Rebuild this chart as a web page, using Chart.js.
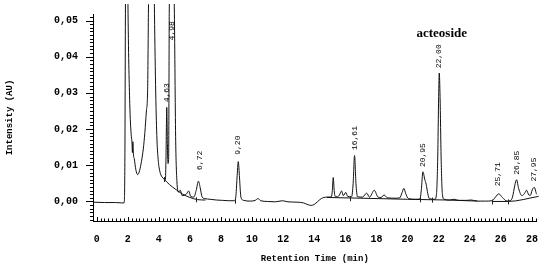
<!DOCTYPE html>
<html>
<head>
<meta charset="utf-8">
<script src="https://cdn.jsdelivr.net/npm/chart.js@4.4.0/dist/chart.umd.min.js"></script>
<style>
  html, body { margin: 0; padding: 0; background: #fff; }
  #wrap { width: 550px; height: 266px; }
</style>
</head>
<body>
<div id="wrap"><canvas id="c" width="550" height="266"></canvas></div>
<script>
// ---- data ----
const retentionTime = [
  -0.23, 0.5, 1.2, 1.6, 1.76, 1.79, 1.82, 1.85, 1.93, 2.02, 2.13, 2.22, 2.27, 2.3, 2.33, 2.37, 2.42,
  2.52, 2.64, 2.76, 2.88, 3.0, 3.1, 3.2, 3.28, 3.33, 3.53, 3.72, 3.8, 3.88, 3.97, 4.07, 4.2, 4.33,
  4.42, 4.46, 4.51, 4.55, 4.59, 4.63, 4.67, 4.82, 5.0, 5.08, 5.16, 5.27, 5.38, 5.5, 5.62, 5.78, 5.92,
  6.05, 6.25, 6.4, 6.55, 6.66, 6.78, 6.95, 7.3, 7.7, 8.1, 8.5, 8.85, 8.95, 9.03, 9.11, 9.19, 9.28,
  9.45, 9.9, 10.2, 10.38, 10.55, 11.0, 11.5, 11.95, 12.3, 12.9, 13.3, 13.6, 13.8, 14.0, 14.2, 14.45,
  14.8, 15.1, 15.16, 15.22, 15.28, 15.36, 15.5, 15.62, 15.75, 15.87, 16.02, 16.15, 16.4, 16.5, 16.59,
  16.68, 16.78, 17.1, 17.37, 17.55, 17.86, 18.1, 18.3, 18.49, 18.7, 19.2, 19.5, 19.65, 19.76, 19.88,
  20.05, 20.5, 20.8, 20.88, 20.99, 21.1, 21.2, 21.3, 21.4, 21.75, 21.86, 21.94, 22.0, 22.04, 22.09,
  22.16, 22.24, 22.35, 22.7, 23.0, 23.3, 23.8, 24.1, 24.5, 25.0, 25.45, 25.65, 25.87, 26.1, 26.4,
  26.6, 26.75, 26.9, 27.01, 27.15, 27.35, 27.52, 27.65, 27.8, 27.9, 28.02, 28.15, 28.3, 28.43
];
const intensity = [
  -0.0002, -0.0003, -0.0003, -0.0004, -0.0004, 0.001, 0.015, 0.052, 0.10, 0.052, 0.027, 0.0185, 0.0165, 0.0135, 0.0165, 0.0128, 0.0118,
  0.0088, 0.0074, 0.0085, 0.011, 0.0145, 0.019, 0.025, 0.031, 0.052, 0.12, 0.052, 0.03, 0.017, 0.011, 0.0082, 0.0068, 0.0062,
  0.006, 0.012, 0.026, 0.016, 0.0105, 0.0115, 0.052, 0.10, 0.052, 0.018, 0.0058, 0.0026, 0.0031, 0.0016, 0.0017, 0.0021, 0.0029,
  0.0014, 0.0012, 0.003, 0.0056, 0.0038, 0.0013, 0.0008, 0.0006, 0.0004, 0.0003, 0.0002, 0.0002, 0.0012, 0.0065, 0.011, 0.0065, 0.0012,
  0.0003, 0.0001, 0.0003, 0.0008, 0.0002, 0.0, -0.0001, 0.0002, -0.0001, -0.0002, -0.0004, -0.0009, -0.0011, -0.0008, -0.0001, 0.0008,
  0.0012, 0.0013, 0.003, 0.0066, 0.003, 0.0013, 0.0013, 0.0018, 0.0029, 0.0016, 0.0025, 0.0014, 0.0013, 0.005, 0.0127,
  0.005, 0.0013, 0.0012, 0.0023, 0.0012, 0.0031, 0.0012, 0.0011, 0.0018, 0.001, 0.0009, 0.001, 0.0025, 0.0036, 0.0022,
  0.0008, 0.0006, 0.0007, 0.003, 0.0082, 0.0062, 0.0047, 0.0022, 0.0008, 0.0006, 0.002, 0.012, 0.029, 0.0355, 0.029,
  0.012, 0.002, 0.0006, 0.0004, 0.0006, 0.0003, 0.0003, 0.0004, 0.0001, 0.0001, 0.0002, 0.0012, 0.0021, 0.0011, 0.0001,
  0.0002, 0.0012, 0.0045, 0.006, 0.0035, 0.0016, 0.0022, 0.0031, 0.0018, 0.0017, 0.0032, 0.0039, 0.002, 0.0011
];
// integration baselines (null separates segments)
const baselineTime = [4.33, 4.7, 5.1, 5.5, 6.0, 6.5, 7.0, 10, 14.8, 17, 20, 22.5, 24.5, 25, 25.45, 26.45, 28.43];
const baselineIntensity = [0.0062, 0.0046, 0.0033, 0.0021, 0.0011, 0.0005, 0.0004, null, 0.0011, 0.0009, 0.0006, 0.0004, 0.0001, null, 0.0, 0.0, 0.0014];
// integration start/stop marks on the baseline
const markTime = [4.33, 6.4, 8.9, 16.3, 20.8, 21.6, 25.45, 26.45];
const markIntensity = [0.0062, 0.0006, 0.0002, 0.0009, 0.0006, 0.0005, 0.0, 0.0];

const peakLabels = ['4,63', '4,98', '6,72', '9,20', '16,61', '20,95', '22,00', '25,71', '26,85', '27,95'];
const peakLabelTime = [4.52, 4.82, 6.62, 9.11, 16.64, 20.99, 22.04, 25.84, 27.03, 28.13];
const peakLabelHeight = [0.0274, 0.0445, 0.0087, 0.0129, 0.0142, 0.0095, 0.0368, 0.0042, 0.0074, 0.0055];

const compoundName = 'acteoside';
const compoundTime = 22.2;
const compoundHeight = 0.0455;

const xTitle = 'Retention Time (min)';
const yTitle = 'Intensity (AU)';
const xStep = 2, xMinorStep = 0.25;
const yStep = 0.01, yMinorStep = 0.001;

// ---- chart ----
const MONO = "'Liberation Mono', 'Courier New', monospace";

const tracePoints = retentionTime.map((t, i) => ({ x: t, y: intensity[i] }));
const basePoints = baselineTime.map((t, i) => ({ x: t, y: baselineIntensity[i] }));

const decorPlugin = {
  id: 'decor',
  afterDraw(chart) {
    const ctx = chart.ctx;
    const xs = chart.scales.x, ys = chart.scales.y;
    const area = chart.chartArea;
    ctx.save();
    ctx.strokeStyle = '#000';
    ctx.lineWidth = 1;
    // y ticks (outward, left)
    const yStart = Math.ceil(ys.min / yMinorStep);
    const yEnd = Math.floor(ys.max / yMinorStep);
    ctx.beginPath();
    for (let k = yStart; k <= yEnd; k++) {
      const v = k * yMinorStep;
      const p = Math.round(ys.getPixelForValue(v)) + 0.5;
      const major = (k % 10 === 0);
      const len = major ? 7 : 3;
      ctx.moveTo(area.left - len, p);
      ctx.lineTo(area.left, p);
    }
    ctx.stroke();
    // x ticks (inward, upward)
    const xEnd = Math.floor(xs.max / xMinorStep);
    ctx.beginPath();
    for (let k = 0; k <= xEnd; k++) {
      const v = k * xMinorStep;
      const p = Math.round(xs.getPixelForValue(v)) + 0.5;
      const major = Math.abs(v / xStep - Math.round(v / xStep)) < 1e-6;
      const len = major ? 4 : 2.5;
      ctx.moveTo(p, area.bottom);
      ctx.lineTo(p, area.bottom - len);
    }
    ctx.stroke();
    // integration marks
    ctx.strokeStyle = '#222';
    ctx.beginPath();
    markTime.forEach((t, i) => {
      const x = Math.round(xs.getPixelForValue(t)) + 0.5;
      const y = ys.getPixelForValue(markIntensity[i]);
      ctx.moveTo(x, y - 2);
      ctx.lineTo(x, y + 3);
    });
    ctx.stroke();
    // peak labels (rotated)
    ctx.fillStyle = '#000';
    ctx.font = "8px " + MONO;
    ctx.textAlign = 'left';
    ctx.textBaseline = 'middle';
    peakLabels.forEach((lab, i) => {
      const x = xs.getPixelForValue(peakLabelTime[i]);
      const y = ys.getPixelForValue(peakLabelHeight[i]);
      ctx.save();
      ctx.translate(x, y);
      ctx.rotate(-Math.PI / 2);
      ctx.fillText(lab, 0, 0);
      ctx.restore();
    });
    // compound name
    ctx.font = "bold 13px 'Liberation Serif', 'Times New Roman', serif";
    ctx.textAlign = 'center';
    ctx.textBaseline = 'alphabetic';
    ctx.fillText(compoundName, xs.getPixelForValue(compoundTime), ys.getPixelForValue(compoundHeight));
    ctx.restore();
  }
};

new Chart(document.getElementById('c'), {
  type: 'line',
  data: {
    datasets: [
      {
        label: 'trace',
        data: tracePoints,
        borderColor: '#111',
        borderWidth: 1,
        pointRadius: 0,
        fill: false,
        cubicInterpolationMode: 'monotone',
        clip: { left: 0, top: 10, right: 4, bottom: 0 }
      },
      {
        label: 'baseline',
        data: basePoints,
        borderColor: '#111',
        borderWidth: 1,
        pointRadius: 0,
        fill: false,
        spanGaps: false,
        cubicInterpolationMode: 'monotone',
        clip: { left: 0, top: 10, right: 4, bottom: 0 }
      }
    ]
  },
  options: {
    responsive: false,
    animation: false,
    devicePixelRatio: 1,
    layout: { padding: { top: 4, right: 7, left: 0, bottom: 0 } },
    plugins: { legend: { display: false }, tooltip: { enabled: false } },
    scales: {
      x: {
        type: 'linear',
        position: 'bottom',
        min: -0.235,
        max: 28.3,
        grid: { display: false, drawTicks: false },
        border: { display: true, color: '#000', width: 1 },
        ticks: {
          stepSize: xStep,
          includeBounds: false,
          autoSkip: false,
          maxRotation: 0,
          padding: 12,
          color: '#000',
          font: { family: MONO, weight: 'bold', size: 10 },
          callback: (v) => (v < 0 || Math.abs(v - Math.round(v)) > 1e-6) ? '' : String(Math.round(v))
        },
        title: {
          display: true,
          text: xTitle,
          color: '#000',
          font: { family: MONO, weight: 'bold', size: 9 },
          padding: { top: 0, bottom: 2 }
        },
        afterFit: (s) => { s.height = 45; }
      },
      y: {
        type: 'linear',
        min: -0.0054,
        max: 0.0518,
        grid: { display: false, drawTicks: true, tickLength: 7 },
        border: { display: true, color: '#000', width: 1 },
        ticks: {
          stepSize: yStep,
          includeBounds: false,
          autoSkip: false,
          padding: 8,
          color: '#000',
          font: { family: MONO, weight: 'bold', size: 10 },
          callback: (v) => {
            const r = Math.round(v * 100) / 100;
            if (r < 0 || Math.abs(v - r) > 1e-6) return '';
            return r.toFixed(2).replace('.', ',');
          }
        },
        title: {
          display: true,
          text: yTitle,
          color: '#000',
          font: { family: MONO, weight: 'bold', size: 9 },
          padding: { top: 4, bottom: 0 }
        },
        afterFit: (s) => { s.width = 93; }
      }
    }
  },
  plugins: [decorPlugin]
});
</script>
</body>
</html>
